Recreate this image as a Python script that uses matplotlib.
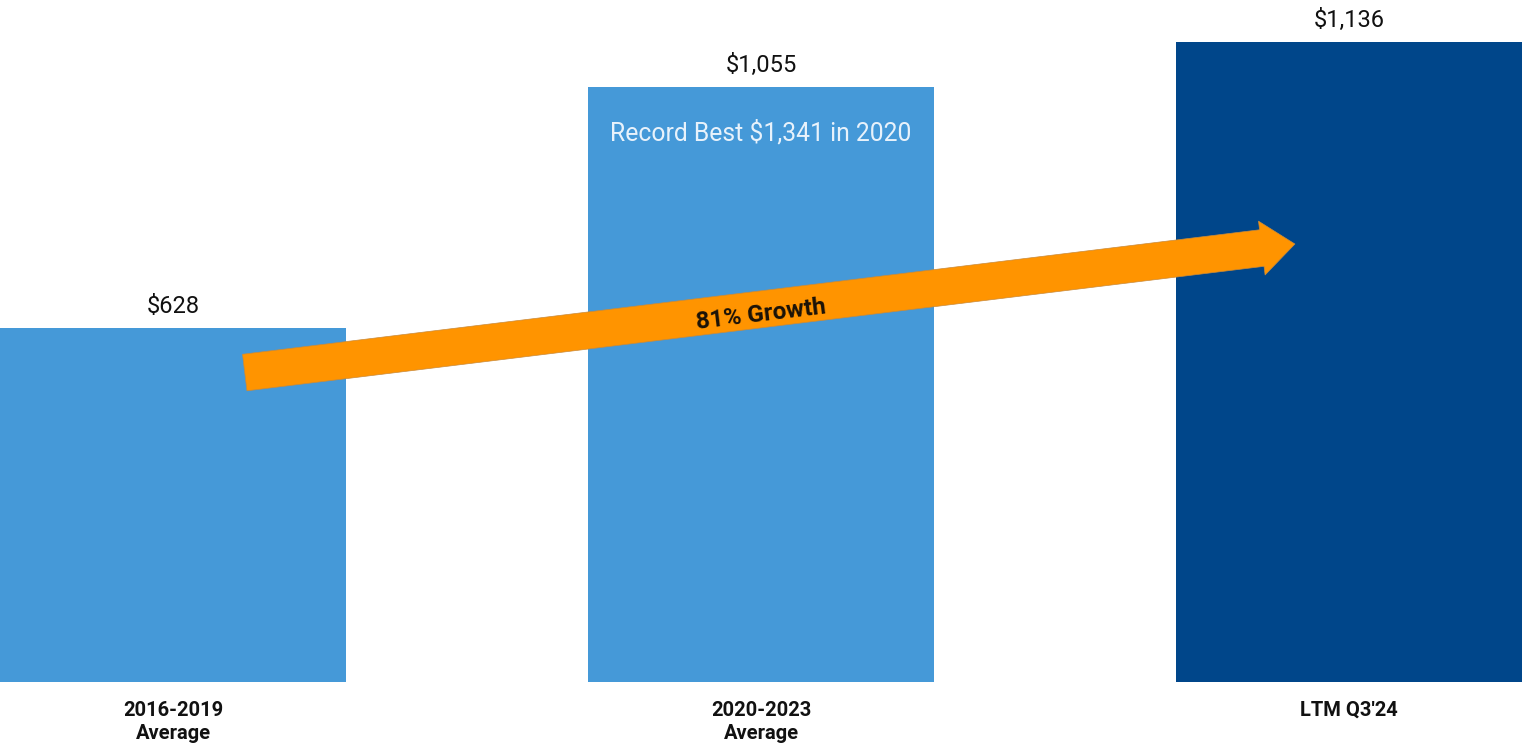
import matplotlib.pyplot as plt

plt.rcParams['font.family'] = ['Roboto', 'DejaVu Sans']

categories = ['2016-2019\nAverage', '2020-2023\nAverage', "LTM Q3'24"]
values = [628, 1055, 1136]
value_labels = ['$628', '$1,055', '$1,136']
colors = ['#4599D8', '#4599D8', '#00468A']
note = 'Record Best $1,341 in 2020'
growth_label = '81% Growth'

fig = plt.figure(figsize=(15.24, 7.47), dpi=100)
ax = fig.add_axes([0, 65 / 747, 1522 / 1524, 682 / 747])
x = list(range(len(categories)))
bw = 346 / 588
ax.bar(x, values, width=bw, color=colors, linewidth=0)
ax.set_xlim(-bw / 2, 2 + bw / 2)
ax.set_ylim(0, 682 / 0.5637)
ax.axis('off')

for xi, v, lab in zip(x, values, value_labels):
    ax.text(xi, v + 18, lab, ha='center', va='bottom', fontsize=17, color='#111111')

for xi, c in zip(x, categories):
    ax.text(xi, -33, c, ha='center', va='top', fontsize=14.5, fontweight='bold',
            color='#111111', linespacing=1.3)

ax.text(1, 974, note, ha='center', va='center', fontsize=17.8, color='#E8F2FB')

# growth arrow from first bar towards the last one
ax.annotate('', xy=(1.908, 777), xytext=(0.122, 549),
            arrowprops=dict(arrowstyle='simple,head_length=2.4,head_width=3.9,tail_width=2.65',
                            mutation_scale=10, fc='#FF9400', ec='#C98A3A', lw=0.5,
                            shrinkA=0, shrinkB=0))
ax.text(1.0, 652, growth_label, ha='center', va='center', rotation=6.9,
        rotation_mode='anchor', fontsize=17.5, fontweight='bold', color='#1A1208')

fig.savefig('out.png', dpi=100)
